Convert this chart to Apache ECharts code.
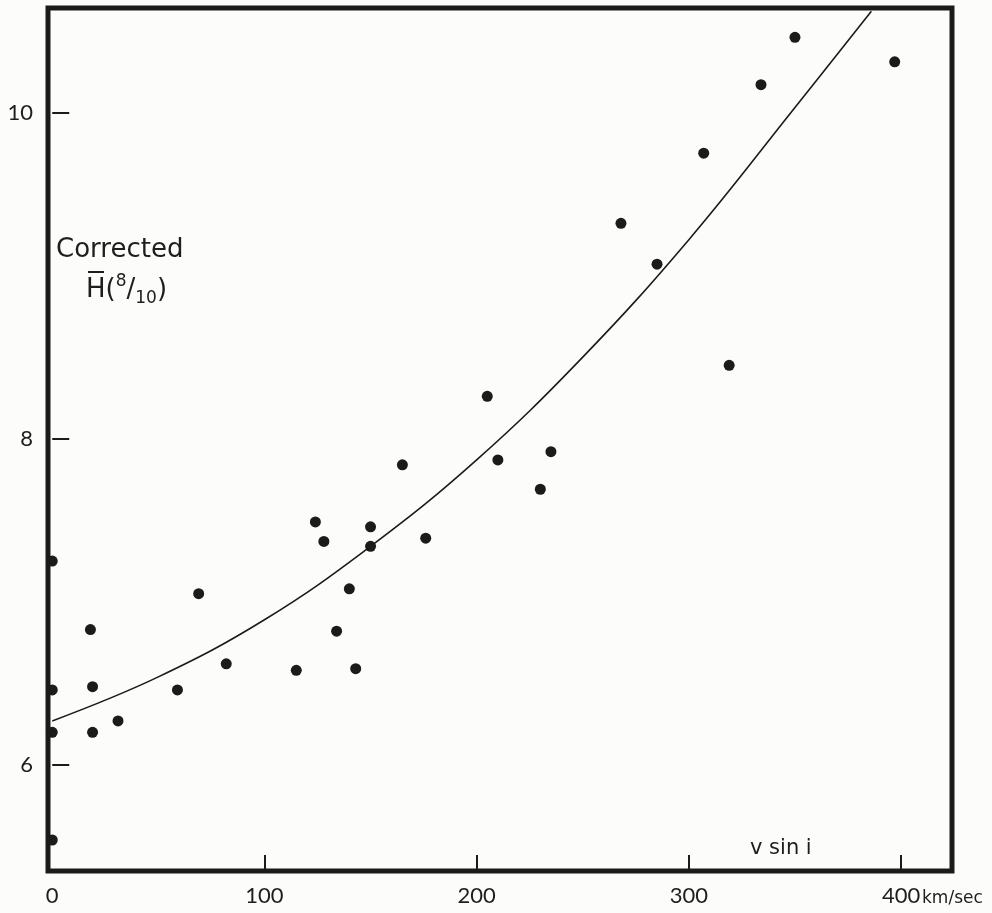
<!DOCTYPE html>
<html>
<head>
<meta charset="utf-8">
<script src="https://cdn.jsdelivr.net/npm/echarts@6/dist/echarts.min.js"></script>
<style>
  html, body { margin: 0; padding: 0; background: #fcfcfb; }
  #chart { width: 992px; height: 913px; }
</style>
</head>
<body>
<div id="chart"></div>
<script>
// tick positions / labels
const xTickValues = [100, 200, 300, 400]
const xLabelValues = [0, 100, 200, 300, 400]
const yTickValues = [6, 8, 10]

// observed stars: v sin i (km/sec) and corrected H(8/10)
const vsini = [0, 0, 0, 0, 18, 19, 19, 31, 59, 69, 82, 115, 124, 128, 134, 140, 143, 150, 150, 165, 176, 205, 210, 230, 235, 268, 285, 307, 319, 334, 350, 397]
const hCorr = [7.25, 6.46, 6.20, 5.54, 6.83, 6.48, 6.20, 6.27, 6.46, 7.05, 6.62, 6.58, 7.49, 7.37, 6.82, 7.08, 6.59, 7.46, 7.34, 7.84, 7.39, 8.26, 7.87, 7.69, 7.92, 9.32, 9.07, 9.75, 8.45, 10.17, 10.46, 10.31]

// fitted curve
const fitV = [0, 50, 100, 150, 200, 250, 300, 350, 386]
const fitH = [6.27, 6.54, 6.89, 7.34, 7.87, 8.50, 9.22, 10.03, 10.62]

const ink = '#1b1b1b'
const font = 'Lato'
const textFont = 'DejaVu Sans'

const chart = echarts.init(document.getElementById('chart'))

const option = {
  backgroundColor: '#fcfcfb',
  animation: false,
  grid: {
    left: 48,
    top: 8,
    right: 40,
    bottom: 42,
    show: true,
    borderColor: ink,
    borderWidth: 5
  },
  xAxis: {
    type: 'value',
    min: -2,
    max: 424,
    axisLine: { show: false },
    axisTick: {
      customValues: xTickValues,
      inside: true,
      length: 16,
      lineStyle: { color: ink, width: 2 }
    },
    axisLabel: {
      customValues: xLabelValues,
      margin: 14,
      color: '#1e1e1e',
      fontFamily: font,
      fontSize: 22
    },
    splitLine: { show: false }
  },
  yAxis: {
    type: 'value',
    min: 5.35,
    max: 10.64,
    axisLine: { show: false },
    axisTick: {
      customValues: yTickValues,
      inside: true,
      length: 17,
      lineStyle: { color: ink, width: 2 }
    },
    axisLabel: {
      customValues: yTickValues,
      margin: 15,
      color: '#1e1e1e',
      fontFamily: font,
      fontSize: 22
    },
    splitLine: { show: false }
  },
  graphic: [
    {
      type: 'text',
      left: 922,
      top: 890,
      style: { text: 'km/sec', fill: '#1e1e1e', font: '17px "DejaVu Sans"' }
    },
    {
      type: 'text',
      left: 750,
      top: 838,
      style: { text: 'v sin i', fill: '#1e1e1e', font: '21px "DejaVu Sans"' }
    },
    {
      type: 'text',
      left: 56,
      top: 237,
      style: { text: 'Corrected', fill: '#1e1e1e', font: '26px "DejaVu Sans"' }
    },
    {
      type: 'text',
      left: 86,
      top: 273,
      style: {
        text: '{p|H(}{s|8}{p|/}{b|10}{p|)}',
        fill: '#1e1e1e',
        rich: {
          p: { fontFamily: textFont, fontSize: 26, lineHeight: 34, verticalAlign: 'middle' },
          s: { fontFamily: textFont, fontSize: 17, lineHeight: 34, verticalAlign: 'top', padding: [0, 0, 10, 0] },
          b: { fontFamily: textFont, fontSize: 17, lineHeight: 34, verticalAlign: 'bottom', padding: [8, 0, 0, 0] }
        }
      }
    },
    {
      // bar over the H
      type: 'rect',
      left: 88,
      top: 271,
      shape: { width: 16, height: 2 },
      style: { fill: '#1e1e1e' }
    }
  ],
  series: [
    {
      name: 'fit',
      type: 'line',
      smooth: 0.4,
      showSymbol: false,
      data: fitV.map((v, i) => [v, fitH[i]]),
      lineStyle: { color: ink, width: 1.6 },
      z: 2
    },
    {
      name: 'stars',
      type: 'scatter',
      symbol: 'circle',
      symbolSize: 11,
      data: vsini.map((v, i) => [v, hCorr[i]]),
      itemStyle: { color: ink, opacity: 1 },
      z: 3
    }
  ]
}

chart.setOption(option)
</script>
</body>
</html>
